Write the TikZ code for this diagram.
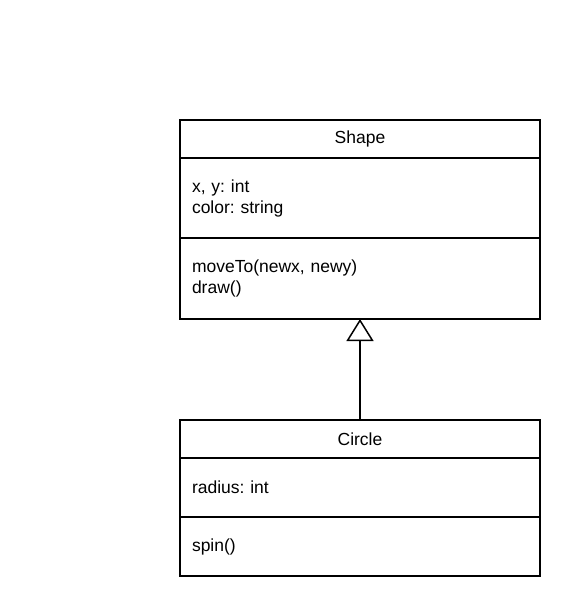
\documentclass[tikz,border=0pt]{standalone}
\usepackage{fontspec}
\setmainfont{Liberation Sans}
\usetikzlibrary{positioning}
\usetikzlibrary{arrows.meta}

\tikzset{
  part/.style={draw, line width=1.5pt, outer sep=0pt, minimum width=360pt,
    text width=336pt, inner xsep=12pt, inner ysep=0pt,
    font=\fontsize{17.5}{21}\selectfont\frenchspacing},
  classname/.style={part, align=center, minimum height=38pt},
  members/.style={part, align=left},
}

\begin{document}
\begin{tikzpicture}[x=1pt,y=-1pt]
\useasboundingbox (0,0) rectangle (580,616);
\node[classname] (shape) at (360,139) {Shape};
\node[members, minimum height=80pt, below=0pt of shape] (shapeattr) {x, y: int\\color: string};
\node[members, minimum height=81pt, below=0pt of shapeattr] (shapeops) {moveTo(newx, newy)\\draw()};
\node[classname] (circle) at (360,439) {Circle};
\node[members, minimum height=59pt, below=0pt of circle] (circleattr) {radius: int};
\node[members, minimum height=59pt, below=0pt of circleattr] (circleops) {spin()};
\draw[-{Triangle[open,width=27pt,length=22pt]}, line width=1.5pt] (circle) -- (shapeops);
\end{tikzpicture}
\end{document}
